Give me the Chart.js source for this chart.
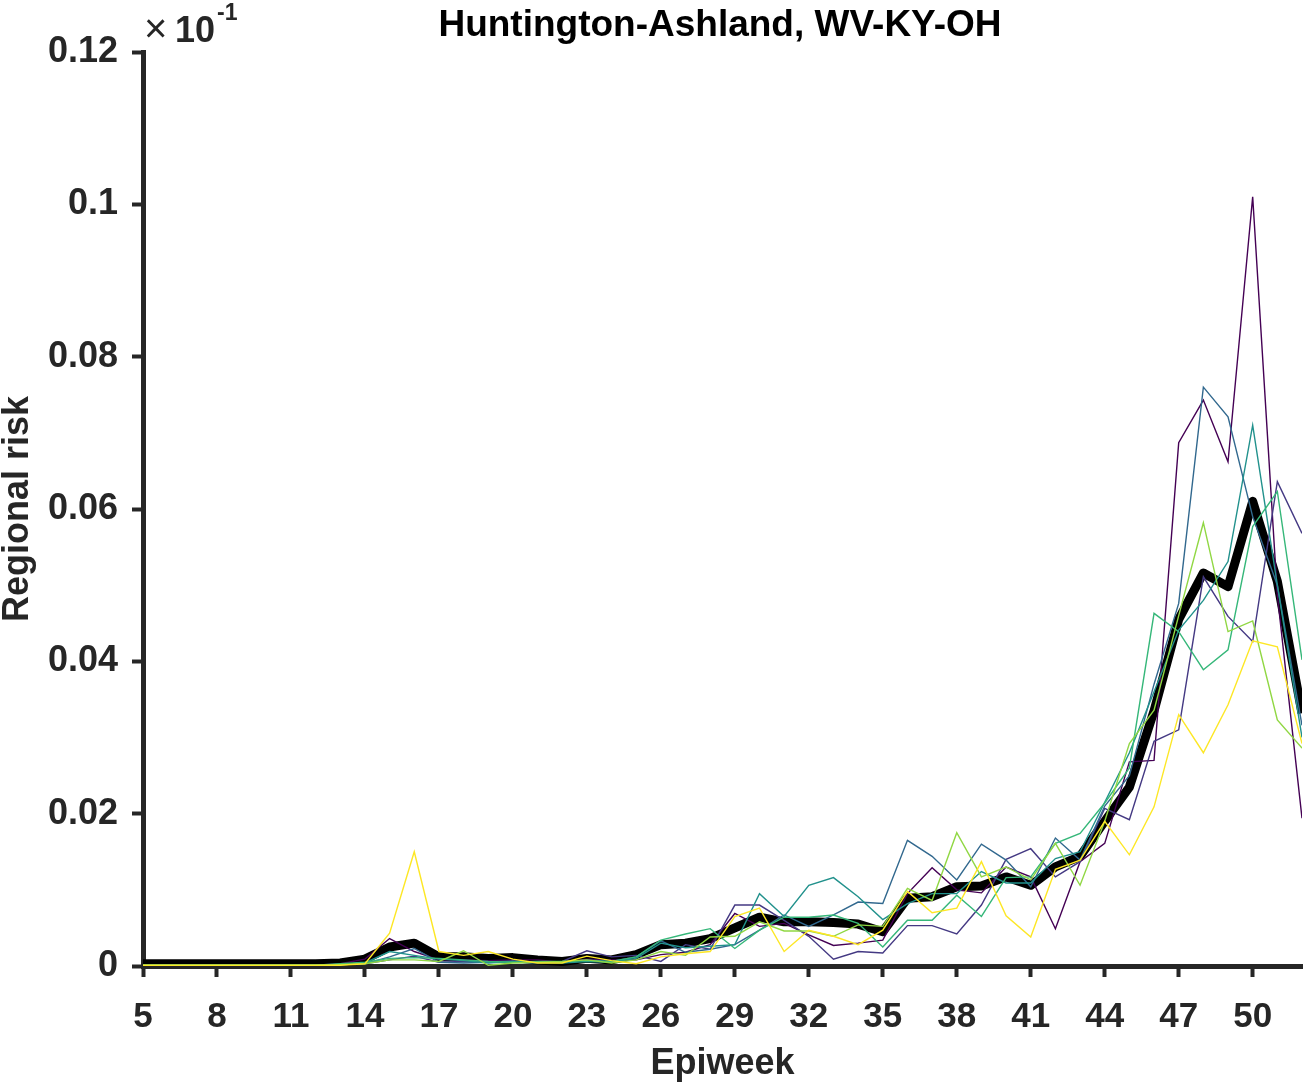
<!DOCTYPE html>
<html>
<head>
<meta charset="utf-8">
<script src="https://cdn.jsdelivr.net/npm/chart.js@4.4.1/dist/chart.umd.min.js"></script>
<style>
  html, body { margin: 0; padding: 0; background: #fff; }
  #wrap { width: 1310px; height: 1086px; position: relative; }
</style>
</head>
<body>
<div id="wrap"><canvas id="risk"></canvas></div>
<script>
// regional risk per epiweek, Huntington-Ashland
const WEEKS = [5,6,7,8,9,10,11,12,13,14,15,16,17,18,19,20,21,22,23,24,25,26,27,28,
  29,30,31,32,33,34,35,36,37,38,39,40,41,42,43,44,45,46,47,48,49,50,51,52];
const X_TICKS = [5,8,11,14,17,20,23,26,29,32,35,38,41,44,47,50];
const Y_TICKS = [0,0.02,0.04,0.06,0.08,0.1,0.12];

const run1 = [0.0001,0.0001,0.0001,0.0001,0.0001,0.0001,0.0001,0.0001,0.0003,0.0009,0.0036,0.0019,
  0.0008,0.0008,0.0007,0.0008,0.0008,0.0005,0.0009,0.0008,0.0008,0.0015,0.0018,0.0028,
  0.0069,0.0052,0.0056,0.0041,0.0027,0.0030,0.0034,0.0095,0.0129,0.0100,0.0096,0.0130,
  0.0117,0.0049,0.0137,0.0161,0.0268,0.0270,0.0687,0.0743,0.0662,0.1010,0.0487,0.0194];
const run2 = [0.0001,0.0001,0.0001,0.0001,0.0001,0.0001,0.0001,0.0001,0.0002,0.0003,0.0008,0.0013,
  0.0005,0.0006,0.0005,0.0007,0.0005,0.0006,0.0020,0.0012,0.0014,0.0006,0.0028,0.0022,
  0.0080,0.0080,0.0060,0.0039,0.0009,0.0019,0.0017,0.0053,0.0053,0.0042,0.0080,0.0140,
  0.0154,0.0117,0.0137,0.0207,0.0192,0.0295,0.0310,0.0511,0.0459,0.0426,0.0636,0.0568];
const run3 = [0.0001,0.0001,0.0001,0.0001,0.0001,0.0001,0.0001,0.0001,0.0002,0.0003,0.0012,0.0023,
  0.0005,0.0004,0.0005,0.0005,0.0004,0.0005,0.0008,0.0006,0.0012,0.0033,0.0018,0.0022,
  0.0028,0.0047,0.0067,0.0052,0.0067,0.0084,0.0082,0.0165,0.0144,0.0113,0.0160,0.0139,
  0.0104,0.0168,0.0139,0.0210,0.0250,0.0370,0.0476,0.0760,0.0721,0.0590,0.0500,0.0316];
const run4 = [0.0001,0.0001,0.0001,0.0001,0.0001,0.0001,0.0001,0.0001,0.0002,0.0004,0.0019,0.0014,
  0.0009,0.0007,0.0004,0.0006,0.0005,0.0004,0.0006,0.0005,0.0010,0.0030,0.0024,0.0026,
  0.0028,0.0095,0.0065,0.0106,0.0116,0.0091,0.0061,0.0082,0.0095,0.0095,0.0124,0.0109,
  0.0109,0.0141,0.0150,0.0215,0.0280,0.0360,0.0441,0.0480,0.0531,0.0710,0.0500,0.0300];
const run5 = [0.0001,0.0001,0.0001,0.0001,0.0001,0.0001,0.0001,0.0001,0.0003,0.0005,0.0010,0.0011,
  0.0010,0.0008,0.0006,0.0005,0.0006,0.0006,0.0007,0.0006,0.0012,0.0034,0.0042,0.0049,
  0.0023,0.0047,0.0064,0.0064,0.0067,0.0056,0.0025,0.0060,0.0060,0.0093,0.0065,0.0116,
  0.0117,0.0161,0.0174,0.0214,0.0260,0.0463,0.0439,0.0389,0.0415,0.0577,0.0623,0.0402];
const run6 = [0.0001,0.0001,0.0001,0.0001,0.0001,0.0001,0.0001,0.0001,0.0002,0.0003,0.0008,0.0008,
  0.0006,0.0020,0.0001,0.0004,0.0005,0.0006,0.0008,0.0004,0.0008,0.0019,0.0014,0.0038,
  0.0039,0.0058,0.0046,0.0046,0.0039,0.0054,0.0052,0.0102,0.0086,0.0175,0.0117,0.0130,
  0.0113,0.0161,0.0106,0.0190,0.0292,0.0336,0.0460,0.0582,0.0439,0.0453,0.0323,0.0286];
const run7 = [0.0001,0.0001,0.0001,0.0001,0.0001,0.0001,0.0001,0.0001,0.0001,0.0003,0.0043,0.0150,
  0.0019,0.0014,0.0019,0.0009,0.0004,0.0004,0.0013,0.0007,0.0003,0.0012,0.0016,0.0019,
  0.0065,0.0076,0.0019,0.0047,0.0039,0.0028,0.0047,0.0098,0.0070,0.0076,0.0137,0.0066,
  0.0038,0.0127,0.0139,0.0190,0.0146,0.0209,0.0330,0.0280,0.0343,0.0427,0.0419,0.0292];
const meanRisk = [0.0003,0.0003,0.0003,0.0003,0.0003,0.0003,0.0003,0.0003,0.0004,0.0009,0.0025,0.0030,
  0.0012,0.0012,0.0010,0.0011,0.0008,0.0006,0.0010,0.0008,0.0015,0.0028,0.0030,0.0036,
  0.0050,0.0064,0.0058,0.0058,0.0057,0.0055,0.0045,0.0089,0.0091,0.0104,0.0105,0.0117,
  0.0106,0.0130,0.0144,0.0190,0.0235,0.0335,0.0455,0.0516,0.0498,0.0610,0.0505,0.0332];

const RUNS = [run1, run2, run3, run4, run5, run6, run7];
const VIRIDIS = ['#440154','#443983','#31688e','#21918c','#35b779','#90d743','#fde725'];
const AXIS = '#262626';
const FONT = '"Liberation Sans", Arial, Helvetica, sans-serif';

const pts = arr => arr.map((v, i) => ({ x: WEEKS[i], y: v }));

const datasets = RUNS.map((r, i) => ({
  data: pts(r), borderColor: VIRIDIS[i], borderWidth: 1.4,
  pointRadius: 0, tension: 0, order: RUNS.length - i
}));
// thick mean goes underneath the thin runs
datasets.push({
  data: pts(meanRisk), borderColor: '#000', borderWidth: 9,
  borderJoinStyle: 'round', borderCapStyle: 'butt',
  pointRadius: 0, tension: 0, order: 99
});

// title + the matlab style exponent label
const annotate = {
  id: 'annotate',
  afterDraw(chart) {
    const { ctx, chartArea } = chart;
    ctx.save();
    ctx.fillStyle = '#000';
    ctx.textAlign = 'center';
    ctx.textBaseline = 'alphabetic';
    ctx.font = `bold 37px ${FONT}`;
    ctx.fillText('Huntington-Ashland, WV-KY-OH', 720, 36);

    ctx.fillStyle = AXIS;
    ctx.textAlign = 'left';
    ctx.font = `40px ${FONT}`;
    ctx.fillText('\u00d7', 144, 42);
    ctx.font = `bold 36px ${FONT}`;
    ctx.fillText('10', 175, 42);
    ctx.font = `bold 23px ${FONT}`;
    ctx.fillText('-1', 217, 20);
    ctx.restore();
  }
};

new Chart(document.getElementById('risk'), {
  type: 'line',
  data: { datasets },
  plugins: [annotate],
  options: {
    responsive: true, maintainAspectRatio: false, animation: false,
    layout: { padding: { top: 52, right: 8, left: 0, bottom: 0 } },
    plugins: { legend: { display: false }, tooltip: { enabled: false } },
    scales: {
      x: {
        type: 'linear', min: 5, max: 52,
        afterBuildTicks: s => { s.ticks = X_TICKS.map(v => ({ value: v })); },
        afterFit: s => { s.height = 120; },
        grid: { drawOnChartArea: false, drawTicks: true, tickLength: 11, tickWidth: 4, tickColor: AXIS },
        border: { display: true, width: 5, color: AXIS },
        ticks: { color: AXIS, padding: 19, maxRotation: 0, autoSkip: false,
          font: { family: FONT, size: 35, weight: 'bold' } },
        title: { display: true, text: 'Epiweek', color: AXIS,
          font: { family: FONT, size: 36, weight: 'bold', lineHeight: 1.2 }, padding: { top: 0, bottom: 0 } }
      },
      y: {
        min: 0, max: 0.12,
        afterBuildTicks: s => { s.ticks = Y_TICKS.map(v => ({ value: v })); },
        afterFit: s => { s.width = 143; },
        grid: { drawOnChartArea: false, drawTicks: true, tickLength: 11, tickWidth: 4, tickColor: AXIS },
        border: { display: true, width: 5, color: AXIS },
        ticks: { color: AXIS, padding: 14,
          callback: v => String(Number(v.toFixed(2))),
          font: { family: FONT, size: 36, weight: 'bold' } },
        title: { display: true, text: 'Regional risk', color: AXIS,
          font: { family: FONT, size: 36, weight: 'bold', lineHeight: 1 }, padding: { top: 0, bottom: 0 } }
      }
    }
  }
});
</script>
</body>
</html>
